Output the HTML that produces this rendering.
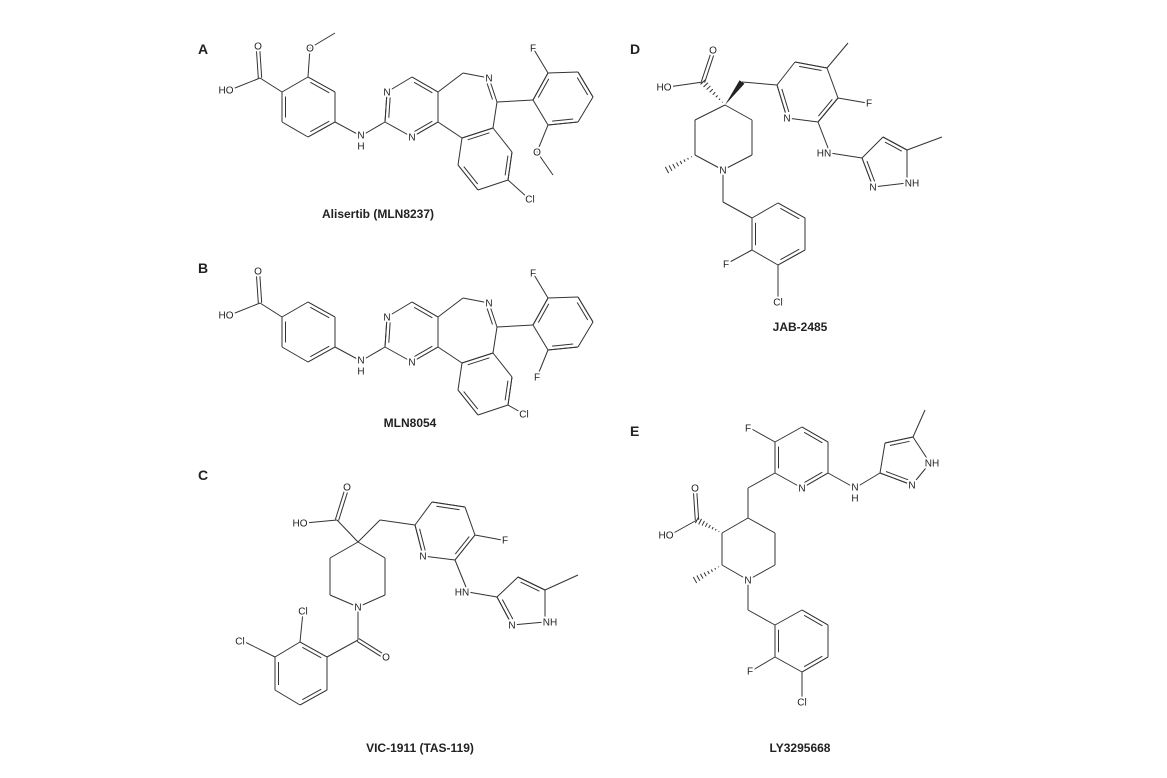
<!DOCTYPE html>
<html><head><meta charset="utf-8"><style>
html,body{margin:0;padding:0;background:#fff;}
svg{display:block;}
text{font-family:"Liberation Sans",sans-serif;fill:#222;}
.l{font-size:10px;paint-order:stroke;stroke:#fff;stroke-width:4px;stroke-linejoin:round;}
.t{font-size:12px;font-weight:bold;}
.p{font-size:14px;font-weight:bold;}
</style></head><body>
<svg id="s" width="1167" height="778" viewBox="0 0 1167 778" xmlns="http://www.w3.org/2000/svg">
<g id="bonds" stroke="#333" stroke-width="1" fill="none"></g>
<g id="labels"></g>
<text class="p" x="198" y="54">A</text>
<text class="p" x="198" y="273">B</text>
<text class="p" x="198" y="480">C</text>
<text class="p" x="630" y="54">D</text>
<text class="p" x="630" y="436">E</text>
<text class="t" x="378" y="218" text-anchor="middle">Alisertib (MLN8237)</text>
<text class="t" x="410" y="427" text-anchor="middle">MLN8054</text>
<text class="t" x="420" y="752" text-anchor="middle">VIC-1911 (TAS-119)</text>
<text class="t" x="800" y="331" text-anchor="middle">JAB-2485</text>
<text class="t" x="800" y="752" text-anchor="middle">LY3295668</text>
</svg>
<script>
var B=document.getElementById('bonds'),LB=document.getElementById('labels'),NS='http://www.w3.org/2000/svg';
function L(a,b,dy){dy=dy||0;var e=document.createElementNS(NS,'line');e.setAttribute('x1',a[0]);e.setAttribute('y1',a[1]+dy);e.setAttribute('x2',b[0]);e.setAttribute('y2',b[1]+dy);B.appendChild(e);}
function D(a,b,c,dy){L(a,b,dy);var dx=b[0]-a[0],dyy=b[1]-a[1],len=Math.hypot(dx,dyy);var nx=-dyy/len,ny=dx/len;var mx=(a[0]+b[0])/2,my=(a[1]+b[1])/2;if((c[0]-mx)*nx+(c[1]-my)*ny<0){nx=-nx;ny=-ny;}var o=3.5,s=0.15;L([a[0]+nx*o+dx*s,a[1]+ny*o+dyy*s],[b[0]+nx*o-dx*s,b[1]+ny*o-dyy*s],dy);}
function D2(a,b,dy){var dx=b[0]-a[0],dyy=b[1]-a[1],len=Math.hypot(dx,dyy);var nx=-dyy/len*1.7,ny=dx/len*1.7;L([a[0]+nx,a[1]+ny],[b[0]+nx,b[1]+ny],dy);L([a[0]-nx,a[1]-ny],[b[0]-nx,b[1]-ny],dy);}
function H(a,b){var dx=b[0]-a[0],dy=b[1]-a[1],len=Math.hypot(dx,dy),nx=-dy/len,ny=dx/len;for(var i=1;i<=8;i++){var t=i/8,w=3.5*t;L([a[0]+dx*t+nx*w,a[1]+dy*t+ny*w],[a[0]+dx*t-nx*w,a[1]+dy*t-ny*w]);}}
function W(a,b){var dx=b[0]-a[0],dy=b[1]-a[1],len=Math.hypot(dx,dy),nx=-dy/len*3,ny=dx/len*3;var p=document.createElementNS(NS,'polygon');p.setAttribute('points',a[0]+','+a[1]+' '+(b[0]+nx)+','+(b[1]+ny)+' '+(b[0]-nx)+','+(b[1]-ny));p.setAttribute('fill','#222');p.setAttribute('stroke','none');document.getElementById('s').insertBefore(p,LB);}
function T(s,x,y){var e=document.createElementNS(NS,'text');e.setAttribute('class','l');e.setAttribute('x',x);e.setAttribute('y',y+3.5);e.setAttribute('text-anchor','middle');e.textContent=s;LB.appendChild(e);}
function R(r){return [(r[0][0]+r[3][0])/2,(r[0][1]+r[3][1])/2];}

// A and B
function AB(dy,isA){
 var Cc=[260,78],O1=[258,48],HO=[230,90];
 var a=[[282,92],[308,77],[335,92],[335,122],[308,137],[282,122]],ac=[308,107];
 L(Cc,HO,dy);D2(Cc,O1,dy);L(Cc,a[0],dy);
 for(var i=0;i<6;i++)L(a[i],a[(i+1)%6],dy);
 D(a[1],a[2],ac,dy);D(a[3],a[4],ac,dy);D(a[5],a[0],ac,dy);
 if(isA){L(a[1],[310,48],dy);L([310,48],[335,33],dy);T('O',310,48+dy);}
 var N=[361,136];L(a[3],N,dy);
 var p=[[385,122],[387,92],[412,77],[438,92],[438,122],[412,137]],pc=[412,107];
 L(N,p[0],dy);for(i=0;i<6;i++)L(p[i],p[(i+1)%6],dy);
 D(p[0],p[1],pc,dy);D(p[2],p[3],pc,dy);D(p[4],p[5],pc,dy);
 var ch=[463,73],N2=[489,78],C7=[497,102];
 L(p[3],ch,dy);L(ch,N2,dy);D(N2,C7,[470,110],dy);
 var b=[[462,138],[493,128],[512,152],[508,180],[478,190],[458,165]],bc=[485,159];
 L(p[4],b[0],dy);L(C7,b[1],dy);
 for(i=0;i<6;i++)L(b[i],b[(i+1)%6],dy);
 D(b[0],b[1],bc,dy);D(b[2],b[3],bc,dy);D(b[4],b[5],bc,dy);
 var cl=isA?[528,198]:[522,188];L(b[3],cl,dy);
 var c=[[533,100],[548,73],[578,72],[593,97],[578,122],[548,125]],cc=[563,98];
 L(C7,c[0],dy);for(i=0;i<6;i++)L(c[i],c[(i+1)%6],dy);
 D(c[0],c[1],cc,dy);D(c[2],c[3],cc,dy);D(c[4],c[5],cc,dy);
 L(c[1],[533,48],dy);L(c[5],[537,152],dy);
 if(isA)L([537,152],[553,175],dy);
 T('HO',226,90+dy);T('O',258,46+dy);T('N',361,135+dy);T('H',361,146+dy);
 T('N',387,92+dy);T('N',412,137+dy);T('N',489,78+dy);
 T('Cl',isA?530:524,(isA?199:189)+dy);T('F',533,48+dy);T(isA?'O':'F',537,152+dy);
}
AB(0,true);AB(225,false);

// D
(function(){
 var O=[713,52],Cc=[703,82],HO=[668,87],C4=[725,105],ch=[742,82];
 D2(Cc,O);L(Cc,HO);H(C4,Cc);W(C4,ch);
 var py=[[777,85],[795,62],[827,68],[838,98],[818,122],[787,118]],pc=[807,92];
 L(ch,py[0]);for(var i=0;i<6;i++)L(py[i],py[(i+1)%6]);
 D(py[0],py[5],pc);D(py[1],py[2],pc);D(py[3],py[4],pc);
 L(py[2],[848,43]);L(py[3],[867,103]);
 var NH=[830,153];L(py[4],NH);
 var z=[[862,158],[883,137],[907,150],[907,183],[873,187]];L(NH,z[0]);
 for(i=0;i<5;i++)L(z[i],z[(i+1)%5]);D(z[1],z[2],[885,165]);D(z[4],z[0],[885,165]);
 L(z[2],[942,137]);
 var pp=[C4,[752,120],[752,155],[723,170],[695,155],[695,120]];
 for(i=0;i<6;i++)L(pp[i],pp[(i+1)%6]);
 H(pp[4],[667,170]);
 var m=[723,202];L(pp[3],m);
 var r=[[752,218],[778,203],[805,218],[805,250],[778,265],[752,250]],rc=[778,234];
 L(m,r[0]);for(i=0;i<6;i++)L(r[i],r[(i+1)%6]);
 D(r[1],r[2],rc);D(r[3],r[4],rc);D(r[5],r[0],rc);
 L(r[5],[728,263]);L(r[4],[778,297]);
 T('O',713,50);T('HO',664,87);T('N',787,118);T('F',869,103);T('HN',824,153);
 T('NH',912,183);T('N',873,187);T('N',723,170);T('F',726,264);T('Cl',778,302);
})();

// C
(function(){
 var O=[347,488],Cc=[337,520],HO=[305,523],C4=[358,542],ch=[380,520];
 D2(Cc,O);L(Cc,HO);L(C4,Cc);L(C4,ch);
 var py=[[415,525],[432,502],[465,507],[475,535],[455,560],[423,556]],pc=[445,530];
 L(ch,py[0]);for(var i=0;i<6;i++)L(py[i],py[(i+1)%6]);
 D(py[0],py[5],pc);D(py[1],py[2],pc);D(py[3],py[4],pc);
 L(py[3],[502,540]);
 var NH=[468,592];L(py[4],NH);
 var z=[[497,597],[518,577],[545,590],[545,622],[512,625]];L(NH,z[0]);
 for(i=0;i<5;i++)L(z[i],z[(i+1)%5]);D(z[1],z[2],[522,603]);D(z[4],z[0],[522,603]);
 L(z[2],[578,575]);
 var pp=[C4,[385,558],[385,595],[358,607],[330,595],[330,558]];
 for(i=0;i<6;i++)L(pp[i],pp[(i+1)%6]);
 var co=[358,640];L(pp[3],co);D2(co,[385,657]);
 var r=[[327,657],[300,642],[275,657],[275,690],[300,705],[327,690]],rc=[301,673];
 L(co,r[0]);for(i=0;i<6;i++)L(r[i],r[(i+1)%6]);
 D(r[0],r[1],rc);D(r[2],r[3],rc);D(r[4],r[5],rc);
 L(r[1],[303,612]);L(r[2],[243,641]);
 T('O',347,487);T('HO',300,523);T('N',423,556);T('F',505,540);T('HN',462,592);
 T('NH',550,622);T('N',512,625);T('N',358,607);T('O',386,657);T('Cl',303,611);T('Cl',240,641);
})();

// E
(function(){
 var py=[[775,442],[802,427],[828,442],[828,473],[802,488],[775,473]],pc=[802,457];
 for(var i=0;i<6;i++)L(py[i],py[(i+1)%6]);
 D(py[0],py[5],pc);D(py[1],py[2],pc);D(py[3],py[4],pc);
 L(py[0],[750,428]);
 var NH=[855,488];L(py[3],NH);
 var z=[[880,473],[885,443],[913,437],[930,463],[912,485]];L(NH,z[0]);
 for(i=0;i<5;i++)L(z[i],z[(i+1)%5]);D(z[1],z[2],[904,460]);D(z[4],z[0],[904,460]);
 L(z[2],[925,410]);
 var ch=[748,488];L(py[5],ch);
 var pp=[[748,518],[775,533],[775,565],[748,580],[722,565],[722,533]];L(ch,pp[0]);
 for(i=0;i<6;i++)L(pp[i],pp[(i+1)%6]);
 var Cc=[697,520];H(pp[5],Cc);D2(Cc,[695,490]);L(Cc,[670,535]);
 H(pp[4],[695,580]);
 var m=[748,610];L(pp[3],m);
 var r=[[775,625],[802,610],[828,625],[828,657],[802,672],[775,657]],rc=[802,641];
 L(m,r[0]);for(i=0;i<6;i++)L(r[i],r[(i+1)%6]);
 D(r[1],r[2],rc);D(r[3],r[4],rc);D(r[5],r[0],rc);
 L(r[5],[753,670]);L(r[4],[802,697]);
 T('F',748,428);T('N',802,488);T('N',855,487);T('H',855,498);T('NH',932,463);T('N',912,485);
 T('O',695,488);T('HO',666,535);T('N',748,580);T('F',750,671);T('Cl',802,702);
})();
</script>
</body></html>
